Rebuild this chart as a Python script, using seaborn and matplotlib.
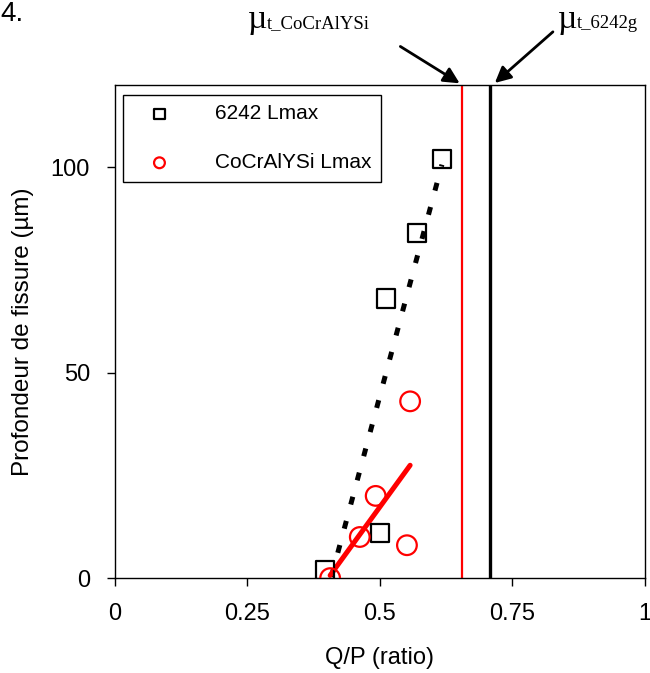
import numpy as np
import pandas as pd
import matplotlib
matplotlib.use("Agg")
import matplotlib.pyplot as plt
import seaborn as sns

# data
qp_6242 = [0.396, 0.500, 0.511, 0.570, 0.617]
depth_6242 = [2, 11, 68, 84, 102]
qp_cocr = [0.406, 0.462, 0.492, 0.551, 0.557]
depth_cocr = [0, 10, 20, 8, 43]
mu_6242 = 0.708
mu_cocr = 0.655
xticks = [0, 0.25, 0.5, 0.75, 1]
xticklabels = ["0", "0.25", "0.5", "0.75", "1"]
yticks = [0, 50, 100]

df_6242 = pd.DataFrame({"qp": qp_6242, "depth": depth_6242})
df_cocr = pd.DataFrame({"qp": qp_cocr, "depth": depth_cocr})

sns.set_style("ticks")
plt.rcParams["font.family"] = ["Liberation Sans", "DejaVu Sans"]
plt.rcParams["text.color"] = "black"
plt.rcParams["axes.labelcolor"] = "black"
plt.rcParams["xtick.color"] = "black"
plt.rcParams["ytick.color"] = "black"

fig = plt.figure(figsize=(6.5, 6.73), dpi=100)
ax = fig.add_axes([0.177, 0.141, 0.815, 0.733])

sns.regplot(x="qp", y="depth", data=df_6242, ax=ax, ci=None, marker="s",
            color="black", label="6242 Lmax",
            scatter_kws={"s": 175, "facecolors": "none", "linewidths": 1.6,
                         "alpha": 1, "zorder": 3},
            line_kws={"lw": 3.6, "ls": (0, (1.6, 3.4)), "zorder": 2})
sns.regplot(x="qp", y="depth", data=df_cocr, ax=ax, ci=None, marker="o",
            color="red", label="CoCrAlYSi Lmax",
            scatter_kws={"s": 200, "facecolors": "none", "linewidths": 1.6,
                         "alpha": 1, "zorder": 3},
            line_kws={"lw": 3.6, "zorder": 2})

ax.axvline(mu_cocr, color="red", lw=1.6)
ax.axvline(mu_6242, color="black", lw=2.4)

ax.set_xlim(0, 1)
ax.set_ylim(0, 120)
ax.set_xticks(xticks)
ax.set_xticklabels(xticklabels)
ax.set_yticks(yticks)
ax.tick_params(labelsize=17, length=6, width=1, color="black", pad=12)
ax.tick_params(axis="y", pad=12)
for s in ax.spines.values():
    s.set_color("black")
    s.set_linewidth(1)

ax.set_xlabel("Q/P (ratio)", fontsize=17, labelpad=16)
ax.set_ylabel("Profondeur de fissure (µm)", fontsize=17.5, labelpad=12)

leg = ax.legend(loc="upper left", bbox_to_anchor=(0.015, 0.98), borderaxespad=0,
                fontsize=15, markerscale=0.55, fancybox=False, framealpha=1,
                edgecolor="black", labelspacing=1.45, handletextpad=1.35,
                borderpad=0.45, handlelength=2.6)
leg.get_frame().set_linewidth(1)

# labels above the plot: large mu followed by smaller serif text on the same baseline
serif = ["Liberation Serif", "DejaVu Serif"]
base_y = 673 - 28
fig.text(248 / 650, base_y / 673, "µ", fontsize=24, family=serif, va="baseline")
fig.text(267 / 650, base_y / 673, "t_CoCrAlYSi", fontsize=13.5, family=serif, va="baseline")
fig.text(558 / 650, base_y / 673, "µ", fontsize=24, family=serif, va="baseline")
fig.text(577 / 650, base_y / 673, "t_6242g", fontsize=13.5, family=serif, va="baseline")

arrow = dict(arrowstyle="-|>", color="black", lw=2, mutation_scale=24)
ax.annotate("", xy=(mu_cocr, 120), xycoords="data",
            xytext=(398, 673 - 45), textcoords="figure pixels",
            arrowprops=arrow, annotation_clip=False)
ax.annotate("", xy=(mu_6242 + 0.005, 120), xycoords="data",
            xytext=(555, 673 - 30), textcoords="figure pixels",
            arrowprops=arrow, annotation_clip=False)

fig.text(0.0, 0.999, "4.", fontsize=20, ha="left", va="top")

fig.savefig("out.png", dpi=100)
